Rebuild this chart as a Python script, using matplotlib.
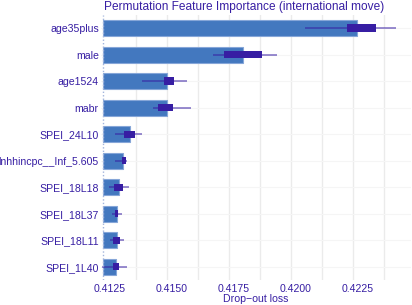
import matplotlib
matplotlib.use("Agg")
import matplotlib.pyplot as plt
import matplotlib.transforms as mtransforms
import numpy as np

plt.rcParams["font.family"] = ["Liberation Sans", "DejaVu Sans"]

variables = ["age35plus", "male", "age1524", "mabr", "SPEI_24L10",
             "lnhhincpc__Inf_5.605", "SPEI_18L18", "SPEI_18L37",
             "SPEI_18L11", "SPEI_1L40"]
full_model = 0.41243
mean_loss = [0.42265, 0.41805, 0.41499, 0.41499, 0.41351,
             0.41321, 0.41308, 0.41297, 0.41297, 0.41294]
q1 = [0.42225, 0.41731, 0.41489, 0.41465, 0.41327,
      0.41317, 0.41288, 0.41290, 0.41284, 0.41284]
q3 = [0.42343, 0.41884, 0.41529, 0.41523, 0.41371,
      0.41335, 0.41324, 0.41304, 0.41310, 0.41307]
wmin = [0.42056, 0.41687, 0.41398, 0.41445, 0.41290,
        0.41290, 0.41267, 0.41277, 0.41270, 0.41237]
wmax = [0.42423, 0.41942, 0.41579, 0.41596, 0.41400,
        0.41337, 0.41348, 0.41317, 0.41327, 0.41337]
xticks = [0.4125, 0.4150, 0.4175, 0.4200, 0.4225]

text_col = "#371ea3"
bar_col = "#4378bf"

fig = plt.figure(figsize=(4.12, 3.05), dpi=100)
ax = fig.add_axes([0.245, 0.082, 0.753, 0.869])

y = np.arange(len(variables))
mean_loss = np.array(mean_loss)

# grid
for gx in np.arange(0.41375, 0.4245, 0.00125):
    ax.axvline(gx, color="#ebebeb", lw=1, zorder=0)
for yy in y:
    ax.axhline(yy, color="#f5f5f5", lw=0.8, zorder=0)

ax.barh(y, mean_loss - full_model, left=full_model, height=0.6,
        color=bar_col, edgecolor="#86a6d8", linewidth=0.8, zorder=2)
ax.hlines(y, wmin, wmax, color=text_col, alpha=0.6, lw=1.2, zorder=3)
ax.barh(y, np.array(q3) - np.array(q1), left=q1, height=0.28,
        color=text_col, linewidth=0, zorder=4)
ax.axvline(full_model, color="#a3b5dc", lw=1, ls=(0, (1, 1.5)), zorder=5)

ax.set_ylim(len(variables) - 0.5, -0.5)
ax.set_xlim(0.41234, 0.42484)
ax.set_yticks(y)
ax.set_yticklabels(variables)
ax.set_xticks(xticks)
ax.set_xticklabels(["%.4f" % v for v in xticks])
ax.tick_params(length=0, colors=text_col, labelsize=7.6, pad=1.5)
ax.tick_params(axis="x", pad=3)
off = mtransforms.ScaledTranslation(5 / 100, 0, fig.dpi_scale_trans)
for lab in ax.get_xticklabels():
    lab.set_transform(lab.get_transform() + off)
for s in ax.spines.values():
    s.set_visible(False)

ax.set_xlabel("Drop\u2212out loss", color=text_col, fontsize=7.6, labelpad=0)
fig.text(0.252, 0.978, "Permutation Feature Importance (international move)",
         color=text_col, fontsize=8.6, va="center", ha="left")

fig.savefig("out.png", dpi=100)
